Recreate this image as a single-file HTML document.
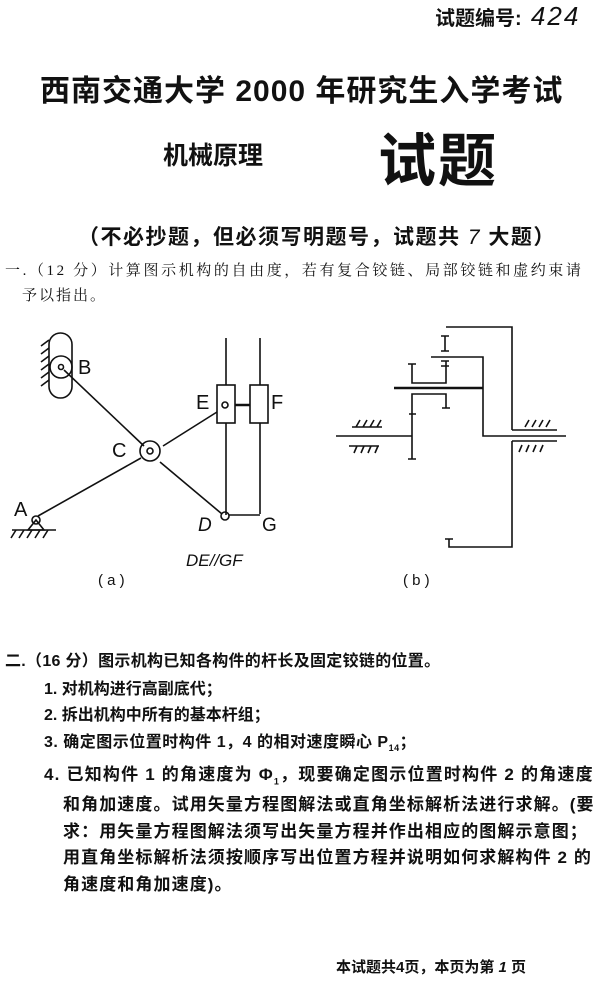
<!DOCTYPE html>
<html><head><meta charset="utf-8"><style>
body{margin:0;width:603px;height:988px;background:#fff;position:relative;overflow:hidden;font-family:"Liberation Serif","Noto Serif CJK SC","Noto Sans CJK SC",serif;color:#111}
.t{position:absolute;white-space:nowrap;line-height:1}
.b{font-weight:bold;font-family:"Liberation Sans","Noto Sans CJK SC",sans-serif}
</style></head><body>
<div class="t b" style="left:435px;top:3px;font-size:20px">试题编号:<span style="font-style:italic;font-weight:normal;font-size:26px;letter-spacing:2px"> 424</span></div>
<div class="t b" style="left:40px;top:77px;font-size:30px;letter-spacing:1px">西南交通大学 2000 年研究生入学考试</div>
<div class="t b" style="left:163px;top:144px;font-size:25px">机械原理</div>
<div class="t b" style="left:378px;top:133px;font-size:58px;letter-spacing:2px">试题</div>
<div class="t b" style="left:78px;top:227px;font-size:21px;letter-spacing:1.5px">（不必抄题，但必须写明题号，试题共 <span style="font-style:italic;font-weight:normal">7</span> 大题）</div>
<div class="t" style="left:5px;top:264px;font-size:15px;letter-spacing:2.6px">一.（12 分）计算图示机构的自由度，若有复合铰链、局部铰链和虚约束请</div>
<div class="t" style="left:22px;top:289px;font-size:15px;letter-spacing:2px">予以指出。</div>

<svg width="603" height="988" style="position:absolute;left:0;top:0" fill="none" stroke="#111" stroke-width="1.6">
<rect x="49" y="333" width="23" height="65" rx="11.5"/>
<circle cx="61" cy="367" r="11"/><circle cx="61" cy="367" r="2.5"/>
<path d="M49 340l-8 6M49 348l-8 6M49 356l-8 6M49 364l-8 6M49 372l-8 6M49 380l-8 6"/>
<line x1="64" y1="370" x2="144" y2="446"/>
<line x1="38" y1="516" x2="141" y2="458"/>
<line x1="163" y1="446" x2="217" y2="412"/>
<line x1="160" y1="462" x2="222" y2="514"/>
<circle cx="150" cy="451" r="10"/><circle cx="150" cy="451" r="3"/>
<circle cx="36" cy="520" r="4"/><path d="M36 520l-8 10h16z"/>
<line x1="12" y1="530" x2="56" y2="530"/>
<path d="M16 530l-5 8M24 530l-5 8M32 530l-5 8M40 530l-5 8M48 530l-5 8"/>
<rect x="217" y="385" width="18" height="38"/><rect x="250" y="385" width="18" height="38"/>
<circle cx="225" cy="405" r="3"/><line x1="235" y1="405" x2="250" y2="405" stroke-width="2.5"/>
<path d="M226 338v47M226 423v92M260 338v47M260 423v91M229 515h31"/>
<circle cx="225" cy="516" r="4"/>
<path d="M446 327h66v103"/>
<path d="M445 336v15M441 336h8M441 351h8"/>
<path d="M431 357h52v79h83"/>
<path d="M446 361v12M441 361h8M441 366h8"/>
<line x1="394" y1="388" x2="483" y2="388" stroke-width="2.6"/>
<path d="M412 364v19h34v-10M408 364h8"/>
<path d="M412 459v-65h34v14M442 408h8M408 459h8M409 414h7"/>
<path d="M336 436h76"/>
<path d="M352 427h30M356 427l4-7M363 427l4-7M370 427l4-7M377 427l4-7"/>
<path d="M349 446h30M354 453l3-7M361 453l3-7M368 453l3-7M375 453l3-7"/>
<path d="M512 430h45M525 427l4-7M532 427l4-7M539 427l4-7M546 427l4-7"/>
<path d="M512 441h45M512 441v106h-63v-8M445 539h8M519 452l3-7M526 452l3-7M533 452l3-7M540 452l3-7"/>
</svg>
<div class="t" style="left:78px;top:358px;font-size:20px;font-family:'Liberation Sans',sans-serif">B</div>
<div class="t" style="left:112px;top:441px;font-size:20px;font-family:'Liberation Sans',sans-serif">C</div>
<div class="t" style="left:14px;top:500px;font-size:20px;font-family:'Liberation Sans',sans-serif">A</div>
<div class="t" style="left:196px;top:393px;font-size:20px;font-family:'Liberation Sans',sans-serif">E</div>
<div class="t" style="left:271px;top:393px;font-size:20px;font-family:'Liberation Sans',sans-serif">F</div>
<div class="t" style="left:198px;top:516px;font-size:19px;font-style:italic;font-family:'Liberation Sans',sans-serif">D</div>
<div class="t" style="left:262px;top:516px;font-size:19px;font-family:'Liberation Sans',sans-serif">G</div>
<div class="t" style="left:186px;top:552px;font-size:17px;font-style:italic;font-family:'Liberation Sans',sans-serif">DE//GF</div>
<div class="t" style="left:98px;top:573px;font-size:15px;font-family:'Liberation Sans',sans-serif">( a )</div>
<div class="t" style="left:403px;top:573px;font-size:15px;font-family:'Liberation Sans',sans-serif">( b )</div>

<div class="t b" style="left:5px;top:654px;font-size:16px;letter-spacing:0.3px">二.（16 分）图示机构已知各构件的杆长及固定铰链的位置。</div>
<div class="t b" style="left:44px;top:682px;font-size:16px">1. 对机构进行高副底代；</div>
<div class="t b" style="left:44px;top:708px;font-size:16px">2. 拆出机构中所有的基本杆组；</div>
<div class="t b" style="left:44px;top:735px;font-size:16px;letter-spacing:0.5px">3. 确定图示位置时构件 1，4 的相对速度瞬心 P<sub style="font-size:9px">14</sub>；</div>
<div class="t b" style="left:44px;top:766px;font-size:17px;letter-spacing:1.2px">4. 已知构件 1 的角速度为 Φ<sub style="font-size:9px">1</sub>，现要确定图示位置时构件 2 的角速度</div>
<div class="t b" style="left:63px;top:796px;font-size:17px;letter-spacing:1.1px">和角加速度。试用矢量方程图解法或直角坐标解析法进行求解。(要</div>
<div class="t b" style="left:63px;top:823px;font-size:17px;letter-spacing:1.1px">求：用矢量方程图解法须写出矢量方程并作出相应的图解示意图；</div>
<div class="t b" style="left:63px;top:849px;font-size:17px;letter-spacing:1.1px">用直角坐标解析法须按顺序写出位置方程并说明如何求解构件 2 的</div>
<div class="t b" style="left:63px;top:876px;font-size:17px;letter-spacing:1.1px">角速度和角加速度)。</div>
<div class="t b" style="left:336px;top:960px;font-size:15px">本试题共4页，本页为第 <i>1</i> 页</div>
</body></html>
